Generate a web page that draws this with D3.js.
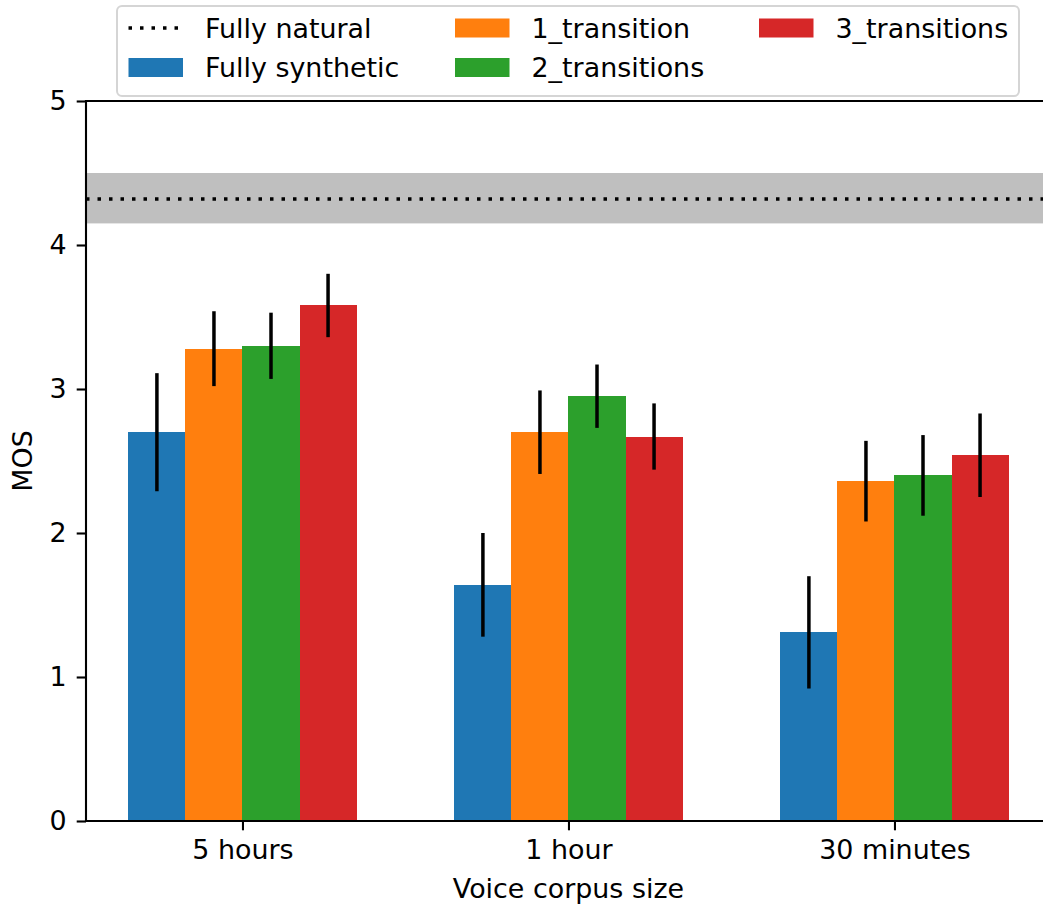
<!DOCTYPE html>
<html>
<head>
<meta charset="utf-8">
<script src="https://cdn.jsdelivr.net/npm/d3@7"></script>
<style>
  html, body { margin: 0; padding: 0; background: #fff; }
  svg { display: block; font-family: "DejaVu Sans", sans-serif; }
</style>
</head>
<body>
<svg id="chart" width="1043" height="907"></svg>
<script>
// ---- data ----
const categories = ["5 hours", "1 hour", "30 minutes"];
const seriesNames = ["Fully synthetic", "1_transition", "2_transitions", "3_transitions"];
const seriesColors = ["#1f77b4", "#ff7f0e", "#2ca02c", "#d62728"];
const fullySynthetic = [2.70, 1.64, 1.31];
const oneTransition = [3.28, 2.70, 2.36];
const twoTransitions = [3.30, 2.95, 2.40];
const threeTransitions = [3.58, 2.67, 2.54];
const errSynthetic = [0.41, 0.36, 0.39];
const errOne = [0.26, 0.29, 0.28];
const errTwo = [0.23, 0.22, 0.28];
const errThree = [0.22, 0.23, 0.29];
const naturalMean = 4.32;
const naturalLow = 4.15;
const naturalHigh = 4.50;
const yTicks = [0, 1, 2, 3, 4, 5];

const seriesValues = [fullySynthetic, oneTransition, twoTransitions, threeTransitions];
const seriesErrors = [errSynthetic, errOne, errTwo, errThree];

// ---- layout ----
const svg = d3.select("#chart");
const fs = 26.9;
const plotLeft = 86, plotTop = 101, plotBottom = 821;
const barW = 0.175;

const x = d3.scaleLinear().domain([-0.48, 2.49]).range([plotLeft, plotLeft + 2.97 * 326]);
const y = d3.scaleLinear().domain([0, 5]).range([plotBottom, plotTop]);
const plotRight = x.range()[1];

const plot = svg.append("g");

// natural band + dotted line
plot.append("rect")
  .attr("x", plotLeft).attr("width", plotRight - plotLeft)
  .attr("y", y(naturalHigh)).attr("height", y(naturalLow) - y(naturalHigh))
  .attr("fill", "#bfbfbf");
plot.append("line")
  .attr("x1", plotLeft).attr("x2", plotRight)
  .attr("y1", y(naturalMean)).attr("y2", y(naturalMean))
  .attr("stroke", "#000").attr("stroke-width", 3.5)
  .attr("stroke-dasharray", "3.5 8");

// bars
const barData = [];
seriesValues.forEach((vals, s) => {
  vals.forEach((v, i) => {
    barData.push({ s, i, v, e: seriesErrors[s][i], c: (s - 1.5) * barW + i });
  });
});

plot.selectAll("rect.bar").data(barData).enter().append("rect")
  .attr("class", "bar")
  .attr("x", d => Math.round(x(d.c - barW / 2)))
  .attr("width", d => Math.round(x(d.c + barW / 2)) - Math.round(x(d.c - barW / 2)))
  .attr("y", d => y(d.v))
  .attr("height", d => y(0) - y(d.v))
  .attr("fill", d => seriesColors[d.s])
  .attr("shape-rendering", "crispEdges");

plot.selectAll("line.err").data(barData).enter().append("line")
  .attr("class", "err")
  .attr("x1", d => x(d.c)).attr("x2", d => x(d.c))
  .attr("y1", d => y(d.v - d.e)).attr("y2", d => y(d.v + d.e))
  .attr("stroke", "#000").attr("stroke-width", 3.5);

// spines
const spineW = 2.1;
svg.append("line").attr("x1", plotLeft).attr("x2", plotLeft).attr("y1", plotTop).attr("y2", plotBottom)
  .attr("stroke", "#000").attr("stroke-width", spineW).attr("stroke-linecap", "square");
svg.append("line").attr("x1", plotLeft).attr("x2", plotRight).attr("y1", plotTop).attr("y2", plotTop)
  .attr("stroke", "#000").attr("stroke-width", spineW).attr("stroke-linecap", "square");
svg.append("line").attr("x1", plotLeft).attr("x2", plotRight).attr("y1", plotBottom).attr("y2", plotBottom)
  .attr("stroke", "#000").attr("stroke-width", spineW).attr("stroke-linecap", "square");
svg.append("line").attr("x1", plotRight).attr("x2", plotRight).attr("y1", plotTop).attr("y2", plotBottom)
  .attr("stroke", "#000").attr("stroke-width", spineW);

// y axis
const yAxis = d3.axisLeft(y).tickValues(yTicks).tickFormat(d3.format("d")).tickSize(9.3).tickPadding(10);
const gy = svg.append("g").attr("transform", `translate(${plotLeft},0)`).call(yAxis);
gy.select(".domain").remove();
gy.selectAll(".tick line").attr("stroke", "#000").attr("stroke-width", spineW);
gy.selectAll(".tick text").attr("font-size", fs).attr("fill", "#000")
  .attr("font-family", "DejaVu Sans");

// x axis
const xAxis = d3.axisBottom(x).tickValues([0, 1, 2]).tickFormat(i => categories[i]).tickSize(9.3).tickPadding(10);
const gx = svg.append("g").attr("transform", `translate(0,${plotBottom})`).call(xAxis);
gx.select(".domain").remove();
gx.selectAll(".tick line").attr("stroke", "#000").attr("stroke-width", spineW);
gx.selectAll(".tick text").attr("font-size", fs).attr("fill", "#000")
  .attr("font-family", "DejaVu Sans");

// axis labels
svg.append("text").attr("x", x(1)).attr("y", 898)
  .attr("text-anchor", "middle").attr("font-size", fs).text("Voice corpus size");
svg.append("text").attr("transform", `translate(32,${(plotTop + plotBottom) / 2}) rotate(-90)`)
  .attr("text-anchor", "middle").attr("font-size", fs).text("MOS");

// legend
const lg = svg.append("g");
lg.append("rect").attr("x", 117).attr("y", 6).attr("width", 902).attr("height", 90)
  .attr("rx", 5).attr("fill", "#fff").attr("fill-opacity", 0.8)
  .attr("stroke", "#d5d5d5").attr("stroke-width", 2);

const legendItems = [
  { label: "Fully natural", type: "line", col: 0, row: 0 },
  { label: seriesNames[0], type: "rect", color: seriesColors[0], col: 0, row: 1 },
  { label: seriesNames[1], type: "rect", color: seriesColors[1], col: 1, row: 0 },
  { label: seriesNames[2], type: "rect", color: seriesColors[2], col: 1, row: 1 },
  { label: seriesNames[3], type: "rect", color: seriesColors[3], col: 2, row: 0 }
];
const colX = [128.5, 455, 759];
const rowY = [28, 67.5];
legendItems.forEach(it => {
  const hx = colX[it.col], cy = rowY[it.row];
  if (it.type === "line") {
    lg.append("line").attr("x1", hx).attr("x2", hx + 54).attr("y1", cy).attr("y2", cy)
      .attr("stroke", "#000").attr("stroke-width", 3.5).attr("stroke-dasharray", "3.5 8");
  } else {
    lg.append("rect").attr("x", hx).attr("y", cy - 9.5).attr("width", 54.5).attr("height", 19)
      .attr("fill", it.color);
  }
  lg.append("text").attr("x", hx + 76.5).attr("y", cy + 9.5)
    .attr("font-size", fs).attr("fill", "#000").text(it.label);
});
</script>
</body>
</html>
